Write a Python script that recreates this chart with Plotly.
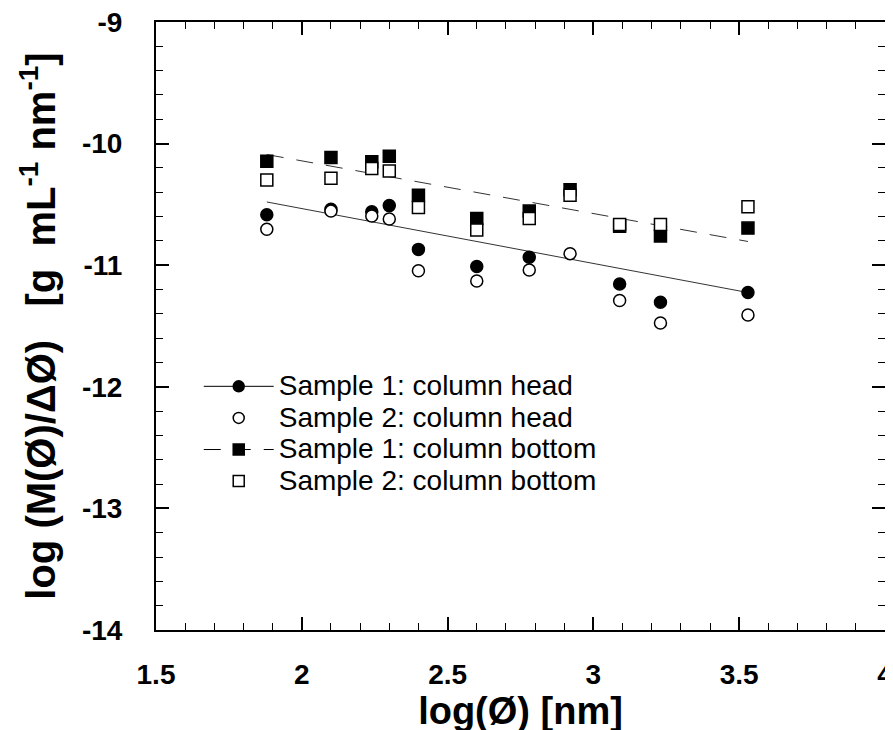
import plotly.graph_objects as go

# ---- data ----
log_d = [1.88, 2.10, 2.24, 2.30, 2.40, 2.60, 2.78, 2.92, 3.09, 3.23, 3.53]
s1_head = [-10.585, -10.54, -10.56, -10.51, -10.87, -11.01, -10.935, None, -11.155, -11.305, -11.225]
s2_head = [-10.705, -10.555, -10.595, -10.62, -11.045, -11.13, -11.04, -10.905, -11.29, -11.475, -11.41]
s1_bottom = [-10.145, -10.115, -10.15, -10.105, -10.425, -10.615, -10.555, -10.38, -10.68, -10.76, -10.695]
s2_bottom = [-10.30, -10.285, -10.205, -10.225, -10.525, -10.71, -10.615, -10.425, -10.665, -10.665, -10.52]

fit_x = [1.88, 3.53]
head_fit_y = [-10.48, -11.225]
bottom_fit_y = [-10.09, -10.805]

names = ["Sample 1: column head", "Sample 2: column head",
         "Sample 1: column bottom", "Sample 2: column bottom"]

x_tick_vals = [1.5, 2, 2.5, 3, 3.5, 4]
x_tick_text = ["1.5", "2", "2.5", "3", "3.5", "4"]
y_tick_vals = [-14, -13, -12, -11, -10, -9]
y_tick_text = ["-14", "-13", "-12", "-11", "-10", "-9"]

FONT = "Liberation Sans, Arial, Helvetica, sans-serif"

fig = go.Figure()

# fit lines
fig.add_trace(go.Scatter(x=fit_x, y=head_fit_y, mode="lines",
                         line=dict(color="#333", width=1), showlegend=False,
                         hoverinfo="skip"))
fig.add_trace(go.Scatter(x=fit_x, y=bottom_fit_y, mode="lines",
                         line=dict(color="#333", width=1, dash="17px,13px"),
                         showlegend=False, hoverinfo="skip"))

styles = [
    dict(symbol="circle", color="black", line=dict(color="black", width=1.5)),
    dict(symbol="circle", color="white", line=dict(color="black", width=1.5)),
    dict(symbol="square", color="black", line=dict(color="black", width=1.5)),
    dict(symbol="square", color="white", line=dict(color="black", width=1.5)),
]
series = [s1_head, s2_head, s1_bottom, s2_bottom]
legend_lines = [dict(color="black", width=1), None,
                dict(color="black", width=1, dash="17px,13px"), None]

for nm, ys, st in zip(names, series, styles):
    fig.add_trace(go.Scatter(x=log_d, y=ys, mode="markers",
                             marker=dict(size=12, **st), showlegend=False,
                             name=nm))
for nm, st, ll in zip(names, styles, legend_lines):
    label = '<span style="font-size:28px">' + nm + '</span>'
    if ll is not None:
        fig.add_trace(go.Scatter(x=[None], y=[None], mode="lines+markers",
                                 marker=dict(size=11, **st), line=ll, name=label))
    else:
        fig.add_trace(go.Scatter(x=[None], y=[None], mode="markers",
                                 marker=dict(size=11, **st), name=label))

axis_common = dict(
    showgrid=False, zeroline=False, showline=True, linecolor="black",
    linewidth=2, mirror="ticks", ticks="inside", tickcolor="black",
    tickwidth=1.5, ticklen=13, automargin=False, ticklabeloverflow="allow",
    tickfont=dict(family=FONT, size=28, color="black", weight="bold"),
)

fig.update_xaxes(
    range=[1.5, 4], tickvals=x_tick_vals, ticktext=x_tick_text,
    ticklabelstandoff=18,
    minor=dict(ticks="inside", ticklen=7, tickwidth=1, tickcolor="black", dtick=0.1, tick0=1.5, showgrid=False),
    title=dict(text="log(Ø) [nm]", font=dict(family=FONT, size=38, color="black", weight="bold"), standoff=6),
    **axis_common,
)
fig.update_yaxes(
    range=[-14, -9], tickvals=y_tick_vals, ticktext=y_tick_text,
    ticklabelstandoff=26,
    minor=dict(ticks="inside", ticklen=7, tickwidth=1, tickcolor="black", dtick=0.2, tick0=-14, showgrid=False),
    title=dict(text="log (M(Ø)/ΔØ)   [g  mL<sup>-1</sup> nm<sup>-1</sup>]",
               font=dict(family=FONT, size=40, color="black", weight="bold"), standoff=14),
    **axis_common,
)

fig.update_layout(
    width=893, height=730,
    margin=dict(l=148, r=16, t=14, b=108),
    paper_bgcolor="white", plot_bgcolor="white",
    font=dict(family=FONT, color="black"),
    legend=dict(x=0.0586, y=0.435, xanchor="left", yanchor="top",
                bgcolor="rgba(0,0,0,0)", borderwidth=0,
                font=dict(family=FONT, size=22, color="black"),
                itemwidth=70, tracegroupgap=0),
)

fig.write_html("out.html")
